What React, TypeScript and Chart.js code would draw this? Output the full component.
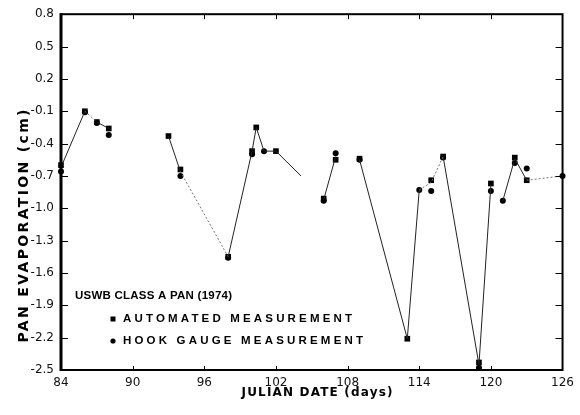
import React, { useEffect, useRef } from "react";
import { Chart, registerables } from "chart.js";

Chart.register(...registerables);

const X_TICKS = [84, 90, 96, 102, 108, 114, 120, 126];
const Y_TICKS = [0.8, 0.5, 0.2, -0.1, -0.4, -0.7, -1.0, -1.3, -1.6, -1.9, -2.2, -2.5];

const AUTO_DAYS = [84, 86, 87, 88, 93, 94, 98, 100, 100.35, 102, 106, 107, 109, 113, 115, 116, 119, 120, 122, 123];
const AUTO_VALUES = [-0.6, -0.1, -0.2, -0.26, -0.33, -0.64, -1.45, -0.47, -0.25, -0.47, -0.91, -0.55, -0.54, -2.21, -0.74, -0.52, -2.43, -0.77, -0.53, -0.74];

const HOOK_DAYS = [84, 86, 87, 88, 94, 98, 100, 101, 106, 107, 109, 114, 115, 116, 119, 120, 121, 122, 123, 126];
const HOOK_VALUES = [-0.66, -0.11, -0.21, -0.32, -0.7, -1.46, -0.5, -0.47, -0.93, -0.49, -0.55, -0.83, -0.84, -0.53, -2.48, -0.84, -0.93, -0.58, -0.63, -0.7];

const LINE_DAYS = [84, 86, 87, 88, 90, 93, 94, 98, 100, 100.35, 101, 102, 104.1, 105, 106, 107, 108, 109, 113, 114, 115, 116, 119, 120, 120.5, 121, 122, 123, 126];
const LINE_VALUES = [-0.62, -0.1, -0.2, -0.26, null, -0.33, -0.66, -1.45, -0.47, -0.25, -0.47, -0.47, -0.7, null, -0.92, -0.52, null, -0.55, -2.21, -0.83, -0.76, -0.52, -2.45, -0.78, null, -0.93, -0.54, -0.74, -0.7];
const DOTTED_FROM = [86, 94, 114, 115, 123];

const TITLE = "USWB CLASS A PAN (1974)";
const SERIES_NAMES = ["AUTOMATED MEASUREMENT", "HOOK GAUGE MEASUREMENT"];
const X_TITLE = "JULIAN DATE (days)";
const Y_TITLE = "PAN EVAPORATION (cm)";

const FONT = '"DejaVu Sans"';
const LEGEND_FONT = '"Liberation Sans"';

function drawFitted(ctx: CanvasRenderingContext2D, text: string, x: number, y: number, target: number, size: number, weight: string, family: string, align: "left" | "center") {
  const anyCtx = ctx as any;
  anyCtx.letterSpacing = "0px";
  ctx.font = `${weight} ${size}px ${family}`;
  const w = ctx.measureText(text).width;
  const sp = (target - w) / (text.length - 1);
  anyCtx.letterSpacing = `${sp}px`;
  ctx.textBaseline = "middle";
  ctx.textAlign = "left";
  const startX = align === "center" ? x - target / 2 : x;
  ctx.fillText(text, startX, y);
  anyCtx.letterSpacing = "0px";
}

const decorPlugin = {
  id: "decor",
  afterDraw(chart: any) {
    const ctx: CanvasRenderingContext2D = chart.ctx;
    const a = chart.chartArea;
    const xs = chart.scales.x;
    const ys = chart.scales.y;
    ctx.save();
    ctx.strokeStyle = "#000";
    ctx.lineWidth = 2;
    ctx.strokeRect(a.left, a.top, a.right - a.left, a.bottom - a.top);
    ctx.lineWidth = 3;
    ctx.beginPath();
    ctx.moveTo(a.left, a.top - 1);
    ctx.lineTo(a.left, a.bottom + 1);
    ctx.stroke();
    ctx.lineWidth = 1;
    ctx.beginPath();
    Y_TICKS.slice(1, -1).forEach((v) => {
      const py = Math.round(ys.getPixelForValue(v)) + 0.5;
      ctx.moveTo(a.left, py);
      ctx.lineTo(a.left + 7, py);
      ctx.moveTo(a.right, py);
      ctx.lineTo(a.right - 7, py);
    });
    X_TICKS.slice(1, -1).forEach((v) => {
      const px = Math.round(xs.getPixelForValue(v)) + 0.5;
      ctx.moveTo(px, a.bottom);
      ctx.lineTo(px, a.bottom - 4);
      ctx.moveTo(px, a.top);
      ctx.lineTo(px, a.top + 5);
    });
    ctx.stroke();

    ctx.fillStyle = "#000";
    // x title
    drawFitted(ctx, X_TITLE, 317, 393, 151, 12, "bold", FONT, "center");
    // y title
    ctx.save();
    ctx.translate(24, 226);
    ctx.rotate(-Math.PI / 2);
    drawFitted(ctx, Y_TITLE, 0, 0, 233, 14, "bold", FONT, "center");
    ctx.restore();

    // legend
    drawFitted(ctx, TITLE, 75, 296, 157, 11.5, "bold", LEGEND_FONT, "left");
    ctx.fillRect(110.5, 316.5, 5, 5);
    drawFitted(ctx, SERIES_NAMES[0], 123, 319, 229, 11.5, "bold", LEGEND_FONT, "left");
    ctx.beginPath();
    ctx.arc(113, 341, 2.6, 0, Math.PI * 2);
    ctx.fill();
    drawFitted(ctx, SERIES_NAMES[1], 123, 341, 240, 11.5, "bold", LEGEND_FONT, "left");
    ctx.restore();
  },
};

export default function App() {
  const ref = useRef<HTMLCanvasElement | null>(null);
  useEffect(() => {
    document.body.style.margin = "0";
    const canvas = ref.current;
    if (!canvas) return;
    const lineData = LINE_DAYS.map((d, i) => ({ x: d, y: LINE_VALUES[i] }));
    const autoData = AUTO_DAYS.map((d, i) => ({ x: d, y: AUTO_VALUES[i] }));
    const hookData = HOOK_DAYS.map((d, i) => ({ x: d, y: HOOK_VALUES[i] }));
    const tickFont = { family: FONT, size: 12 };
    const chart = new Chart(canvas, {
      type: "scatter",
      data: {
        datasets: [
          {
            type: "line",
            label: "line",
            data: lineData as any,
            showLine: true,
            spanGaps: false,
            borderColor: "#222",
            borderWidth: 1,
            pointRadius: 0,
            clip: false as any,
            segment: {
              borderDash: (c: any) => (DOTTED_FROM.includes(c.p0.parsed.x) ? [2, 2] : undefined),
              borderColor: (c: any) => (DOTTED_FROM.includes(c.p0.parsed.x) ? "#777" : "#222"),
            },
          } as any,
          {
            label: SERIES_NAMES[0],
            data: autoData,
            pointStyle: "rect",
            pointRadius: 4,
            backgroundColor: "#000",
            borderColor: "#000",
            borderWidth: 0,
            clip: false as any,
          },
          {
            label: SERIES_NAMES[1],
            data: hookData,
            pointStyle: "circle",
            pointRadius: 3,
            backgroundColor: "#000",
            borderColor: "#000",
            borderWidth: 0,
            clip: false as any,
          },
        ],
      },
      options: {
        animation: false,
        responsive: false,
        layout: { padding: { left: 0, top: 13, right: 15, bottom: 0 } },
        plugins: { legend: { display: false }, tooltip: { enabled: false } },
        scales: {
          x: {
            type: "linear",
            min: 84,
            max: 126,
            afterBuildTicks: (s: any) => {
              s.ticks = X_TICKS.map((v) => ({ value: v }));
            },
            afterFit: (s: any) => {
              s.height = 45;
            },
            grid: { display: false, drawTicks: false },
            border: { display: false },
            ticks: { font: tickFont, color: "#111", padding: 6, maxRotation: 0, autoSkip: false, callback: (v: any) => String(v) },
          },
          y: {
            type: "linear",
            min: -2.5,
            max: 0.8,
            afterBuildTicks: (s: any) => {
              s.ticks = Y_TICKS.map((v) => ({ value: v }));
            },
            afterFit: (s: any) => {
              s.width = 61;
            },
            grid: { display: false, drawTicks: false },
            border: { display: false },
            ticks: { font: tickFont, color: "#111", padding: 7, autoSkip: false, callback: (v: any) => Number(v).toFixed(1) },
          },
        },
      },
      plugins: [decorPlugin],
    });
    return () => chart.destroy();
  }, []);
  return (
    <div style={{ width: 580, height: 415, background: "#fff" }}>
      <canvas ref={ref} width={580} height={415} style={{ display: "block" }} />
    </div>
  );
}
